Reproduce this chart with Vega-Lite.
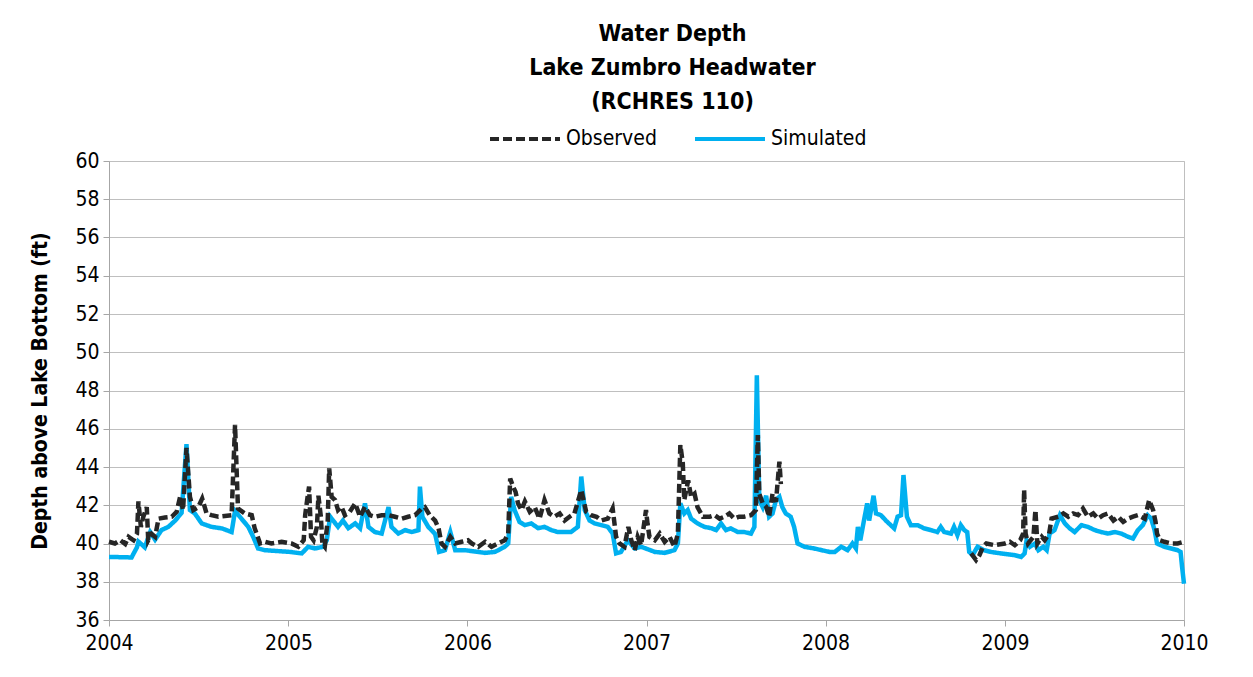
{
  "$schema": "https://vega.github.io/schema/vega-lite/v6.json",
  "autosize": {"type": "none"},
  "width": 1075,
  "height": 459,
  "padding": {"left": 109, "top": 161, "right": 69, "bottom": 57},
  "background": "white",
  "title": {
    "text": ["Water Depth", "Lake Zumbro Headwater", "(RCHRES 110)"],
    "anchor": "middle",
    "dx": 26,
    "offset": -12,
    "font": "Liberation Sans Narrow, DejaVu Sans Condensed, sans-serif",
    "fontSize": 23,
    "fontWeight": "bold",
    "lineHeight": 34,
    "color": "#000000"
  },
  "config": {
    "view": {"stroke": "#BFBFBF", "strokeWidth": 1},
    "font": "Liberation Sans Narrow, DejaVu Sans Condensed, sans-serif"
  },
  "datasets": {
    "sim": [
      {"date": "2004-01-01", "depth": 39.3}, {"date": "2004-02-16", "depth": 39.27}, {"date": "2004-02-27", "depth": 39.8},
      {"date": "2004-03-01", "depth": 40.1}, {"date": "2004-03-14", "depth": 39.8}, {"date": "2004-03-25", "depth": 40.6},
      {"date": "2004-04-04", "depth": 40.2}, {"date": "2004-04-17", "depth": 40.7}, {"date": "2004-05-01", "depth": 40.87},
      {"date": "2004-05-15", "depth": 41.2}, {"date": "2004-05-28", "depth": 41.6}, {"date": "2004-06-07", "depth": 45.2},
      {"date": "2004-06-14", "depth": 41.75}, {"date": "2004-06-24", "depth": 41.57}, {"date": "2004-07-08", "depth": 41.05},
      {"date": "2004-07-28", "depth": 40.87}, {"date": "2004-08-18", "depth": 40.79}, {"date": "2004-09-07", "depth": 40.6},
      {"date": "2004-09-14", "depth": 41.7}, {"date": "2004-09-27", "depth": 41.3}, {"date": "2004-10-11", "depth": 40.87},
      {"date": "2004-10-21", "depth": 40.35}, {"date": "2004-10-31", "depth": 39.74}, {"date": "2004-11-14", "depth": 39.65},
      {"date": "2005-01-04", "depth": 39.56}, {"date": "2005-01-28", "depth": 39.48}, {"date": "2005-02-10", "depth": 39.83},
      {"date": "2005-02-24", "depth": 39.74}, {"date": "2005-03-13", "depth": 39.83}, {"date": "2005-03-20", "depth": 40.17},
      {"date": "2005-03-27", "depth": 41.4}, {"date": "2005-04-02", "depth": 41.2}, {"date": "2005-04-12", "depth": 40.87},
      {"date": "2005-04-22", "depth": 41.2}, {"date": "2005-05-03", "depth": 40.8}, {"date": "2005-05-17", "depth": 41.05},
      {"date": "2005-05-27", "depth": 40.8}, {"date": "2005-06-06", "depth": 42.1}, {"date": "2005-06-13", "depth": 40.87},
      {"date": "2005-06-26", "depth": 40.6}, {"date": "2005-07-10", "depth": 40.52}, {"date": "2005-07-24", "depth": 41.9},
      {"date": "2005-07-30", "depth": 40.87}, {"date": "2005-08-13", "depth": 40.52}, {"date": "2005-08-27", "depth": 40.7},
      {"date": "2005-09-09", "depth": 40.6}, {"date": "2005-09-23", "depth": 40.7}, {"date": "2005-09-26", "depth": 42.97},
      {"date": "2005-10-01", "depth": 41.4}, {"date": "2005-10-13", "depth": 40.87}, {"date": "2005-10-27", "depth": 40.5},
      {"date": "2005-11-04", "depth": 39.56}, {"date": "2005-11-16", "depth": 39.65}, {"date": "2005-11-27", "depth": 40.6},
      {"date": "2005-12-07", "depth": 39.65}, {"date": "2005-12-27", "depth": 39.65}, {"date": "2006-02-06", "depth": 39.51},
      {"date": "2006-02-26", "depth": 39.56}, {"date": "2006-03-18", "depth": 39.83}, {"date": "2006-03-25", "depth": 40.0},
      {"date": "2006-03-31", "depth": 42.44}, {"date": "2006-04-07", "depth": 41.75}, {"date": "2006-04-17", "depth": 41.13},
      {"date": "2006-04-28", "depth": 40.96}, {"date": "2006-05-11", "depth": 41.05}, {"date": "2006-05-25", "depth": 40.8},
      {"date": "2006-06-07", "depth": 40.87}, {"date": "2006-06-21", "depth": 40.7}, {"date": "2006-07-04", "depth": 40.6},
      {"date": "2006-07-31", "depth": 40.6}, {"date": "2006-08-14", "depth": 40.87}, {"date": "2006-08-21", "depth": 43.5},
      {"date": "2006-08-28", "depth": 41.75}, {"date": "2006-09-07", "depth": 41.2}, {"date": "2006-09-17", "depth": 41.05},
      {"date": "2006-10-01", "depth": 40.96}, {"date": "2006-10-14", "depth": 40.87}, {"date": "2006-10-24", "depth": 40.52},
      {"date": "2006-10-31", "depth": 39.48}, {"date": "2006-11-10", "depth": 39.56}, {"date": "2006-11-24", "depth": 40.17},
      {"date": "2006-12-08", "depth": 39.74}, {"date": "2006-12-21", "depth": 39.83}, {"date": "2007-01-18", "depth": 39.56},
      {"date": "2007-02-07", "depth": 39.51}, {"date": "2007-02-27", "depth": 39.65}, {"date": "2007-03-06", "depth": 40.0},
      {"date": "2007-03-11", "depth": 42.1}, {"date": "2007-03-19", "depth": 41.57}, {"date": "2007-03-26", "depth": 41.75},
      {"date": "2007-04-02", "depth": 41.3}, {"date": "2007-04-15", "depth": 41.05}, {"date": "2007-04-29", "depth": 40.87},
      {"date": "2007-05-13", "depth": 40.8}, {"date": "2007-05-23", "depth": 40.7}, {"date": "2007-06-02", "depth": 41.05},
      {"date": "2007-06-12", "depth": 40.7}, {"date": "2007-06-22", "depth": 40.79}, {"date": "2007-07-06", "depth": 40.6},
      {"date": "2007-07-19", "depth": 40.6}, {"date": "2007-08-02", "depth": 40.52}, {"date": "2007-08-09", "depth": 40.87},
      {"date": "2007-08-14", "depth": 48.8}, {"date": "2007-08-19", "depth": 42.27}, {"date": "2007-08-26", "depth": 41.9},
      {"date": "2007-09-02", "depth": 42.5}, {"date": "2007-09-08", "depth": 41.4}, {"date": "2007-09-15", "depth": 41.57},
      {"date": "2007-09-22", "depth": 42.27}, {"date": "2007-09-29", "depth": 42.44}, {"date": "2007-10-05", "depth": 41.9},
      {"date": "2007-10-12", "depth": 41.57}, {"date": "2007-10-22", "depth": 41.4}, {"date": "2007-10-29", "depth": 40.87},
      {"date": "2007-11-05", "depth": 40.0}, {"date": "2007-11-19", "depth": 39.83}, {"date": "2007-12-09", "depth": 39.74},
      {"date": "2008-01-09", "depth": 39.56}, {"date": "2008-01-20", "depth": 39.56}, {"date": "2008-02-02", "depth": 39.83},
      {"date": "2008-02-15", "depth": 39.65}, {"date": "2008-02-25", "depth": 40.0}, {"date": "2008-03-03", "depth": 39.74},
      {"date": "2008-03-07", "depth": 40.87}, {"date": "2008-03-12", "depth": 40.17}, {"date": "2008-03-17", "depth": 40.87},
      {"date": "2008-03-26", "depth": 42.1}, {"date": "2008-03-30", "depth": 41.2}, {"date": "2008-04-08", "depth": 42.5},
      {"date": "2008-04-13", "depth": 41.57}, {"date": "2008-04-23", "depth": 41.48}, {"date": "2008-05-03", "depth": 41.2},
      {"date": "2008-05-13", "depth": 40.96}, {"date": "2008-05-20", "depth": 40.79}, {"date": "2008-05-27", "depth": 41.4},
      {"date": "2008-06-03", "depth": 41.48}, {"date": "2008-06-08", "depth": 43.58}, {"date": "2008-06-15", "depth": 41.4},
      {"date": "2008-06-23", "depth": 40.96}, {"date": "2008-07-07", "depth": 40.96}, {"date": "2008-07-20", "depth": 40.79},
      {"date": "2008-08-03", "depth": 40.7}, {"date": "2008-08-16", "depth": 40.6}, {"date": "2008-08-23", "depth": 40.87},
      {"date": "2008-08-30", "depth": 40.6}, {"date": "2008-09-13", "depth": 40.52}, {"date": "2008-09-19", "depth": 40.87},
      {"date": "2008-09-26", "depth": 40.44}, {"date": "2008-10-03", "depth": 40.96}, {"date": "2008-10-10", "depth": 40.7},
      {"date": "2008-10-16", "depth": 40.6}, {"date": "2008-10-20", "depth": 39.56}, {"date": "2008-10-27", "depth": 39.39},
      {"date": "2008-11-06", "depth": 39.83}, {"date": "2008-11-19", "depth": 39.65}, {"date": "2008-12-03", "depth": 39.56},
      {"date": "2008-12-24", "depth": 39.48}, {"date": "2009-01-21", "depth": 39.39}, {"date": "2009-02-03", "depth": 39.3},
      {"date": "2009-02-10", "depth": 39.48}, {"date": "2009-02-14", "depth": 40.17}, {"date": "2009-02-21", "depth": 39.83},
      {"date": "2009-03-03", "depth": 40.0}, {"date": "2009-03-10", "depth": 39.65}, {"date": "2009-03-20", "depth": 39.83},
      {"date": "2009-03-27", "depth": 39.65}, {"date": "2009-04-02", "depth": 40.52}, {"date": "2009-04-12", "depth": 40.7},
      {"date": "2009-04-23", "depth": 41.48}, {"date": "2009-05-03", "depth": 41.05}, {"date": "2009-05-13", "depth": 40.79},
      {"date": "2009-05-23", "depth": 40.6}, {"date": "2009-06-06", "depth": 40.96}, {"date": "2009-06-19", "depth": 40.87},
      {"date": "2009-07-03", "depth": 40.7}, {"date": "2009-07-16", "depth": 40.6}, {"date": "2009-07-30", "depth": 40.52},
      {"date": "2009-08-13", "depth": 40.6}, {"date": "2009-08-26", "depth": 40.52}, {"date": "2009-09-09", "depth": 40.35},
      {"date": "2009-09-19", "depth": 40.26}, {"date": "2009-09-29", "depth": 40.7}, {"date": "2009-10-09", "depth": 40.96},
      {"date": "2009-10-19", "depth": 41.48}, {"date": "2009-10-26", "depth": 41.3}, {"date": "2009-11-02", "depth": 40.7},
      {"date": "2009-11-07", "depth": 40.0}, {"date": "2009-11-22", "depth": 39.83}, {"date": "2009-12-06", "depth": 39.74},
      {"date": "2009-12-19", "depth": 39.65}, {"date": "2009-12-25", "depth": 39.56}, {"date": "2009-12-28", "depth": 38.8},
      {"date": "2010-01-01", "depth": 37.9}
    ],
    "obs": [
      {"date": "2004-01-01", "depth": 40.09}, {"date": "2004-01-13", "depth": 40.0}, {"date": "2004-01-24", "depth": 40.17},
      {"date": "2004-02-03", "depth": 39.97}, {"date": "2004-02-10", "depth": 40.35}, {"date": "2004-02-20", "depth": 40.17},
      {"date": "2004-02-27", "depth": 40.5}, {"date": "2004-03-01", "depth": 42.2}, {"date": "2004-03-06", "depth": 40.87},
      {"date": "2004-03-11", "depth": 41.4}, {"date": "2004-03-18", "depth": 41.9}, {"date": "2004-03-21", "depth": 40.17},
      {"date": "2004-03-28", "depth": 40.5}, {"date": "2004-04-04", "depth": 40.35}, {"date": "2004-04-11", "depth": 41.3},
      {"date": "2004-04-24", "depth": 41.36}, {"date": "2004-05-08", "depth": 41.4}, {"date": "2004-05-18", "depth": 41.66},
      {"date": "2004-05-25", "depth": 42.44}, {"date": "2004-05-31", "depth": 41.75}, {"date": "2004-06-07", "depth": 45.0},
      {"date": "2004-06-14", "depth": 42.44}, {"date": "2004-06-21", "depth": 41.75}, {"date": "2004-07-01", "depth": 41.9},
      {"date": "2004-07-09", "depth": 42.35}, {"date": "2004-07-18", "depth": 41.57}, {"date": "2004-07-28", "depth": 41.48},
      {"date": "2004-08-11", "depth": 41.4}, {"date": "2004-08-24", "depth": 41.44}, {"date": "2004-09-07", "depth": 41.48},
      {"date": "2004-09-14", "depth": 46.2}, {"date": "2004-09-20", "depth": 41.83}, {"date": "2004-10-04", "depth": 41.57},
      {"date": "2004-10-18", "depth": 41.48}, {"date": "2004-10-24", "depth": 40.8}, {"date": "2004-11-04", "depth": 40.0},
      {"date": "2004-11-14", "depth": 40.09}, {"date": "2004-11-27", "depth": 40.0}, {"date": "2004-12-18", "depth": 40.09},
      {"date": "2005-01-07", "depth": 40.0}, {"date": "2005-01-21", "depth": 39.83}, {"date": "2005-02-01", "depth": 40.17},
      {"date": "2005-02-04", "depth": 41.48}, {"date": "2005-02-08", "depth": 42.27}, {"date": "2005-02-12", "depth": 42.97},
      {"date": "2005-02-16", "depth": 40.35}, {"date": "2005-02-21", "depth": 40.17}, {"date": "2005-02-28", "depth": 40.87},
      {"date": "2005-03-03", "depth": 42.5}, {"date": "2005-03-08", "depth": 41.4}, {"date": "2005-03-11", "depth": 40.0},
      {"date": "2005-03-16", "depth": 39.83}, {"date": "2005-03-22", "depth": 41.2}, {"date": "2005-03-25", "depth": 43.93},
      {"date": "2005-03-30", "depth": 42.44}, {"date": "2005-04-06", "depth": 42.27}, {"date": "2005-04-12", "depth": 41.75},
      {"date": "2005-04-19", "depth": 41.92}, {"date": "2005-04-26", "depth": 41.48}, {"date": "2005-05-06", "depth": 41.66},
      {"date": "2005-05-17", "depth": 42.1}, {"date": "2005-05-27", "depth": 41.4}, {"date": "2005-06-06", "depth": 41.92},
      {"date": "2005-06-16", "depth": 41.48}, {"date": "2005-06-26", "depth": 41.4}, {"date": "2005-07-10", "depth": 41.48},
      {"date": "2005-07-24", "depth": 41.48}, {"date": "2005-08-06", "depth": 41.4}, {"date": "2005-08-20", "depth": 41.3},
      {"date": "2005-09-02", "depth": 41.4}, {"date": "2005-09-16", "depth": 41.48}, {"date": "2005-09-30", "depth": 41.83},
      {"date": "2005-10-06", "depth": 41.9}, {"date": "2005-10-16", "depth": 41.48}, {"date": "2005-10-27", "depth": 41.2},
      {"date": "2005-11-03", "depth": 40.8}, {"date": "2005-11-09", "depth": 40.0}, {"date": "2005-11-16", "depth": 39.83},
      {"date": "2005-11-27", "depth": 40.35}, {"date": "2005-12-07", "depth": 40.0}, {"date": "2005-12-20", "depth": 40.09},
      {"date": "2006-01-02", "depth": 40.17}, {"date": "2006-01-10", "depth": 40.0}, {"date": "2006-01-23", "depth": 39.83},
      {"date": "2006-02-06", "depth": 40.09}, {"date": "2006-02-19", "depth": 39.83}, {"date": "2006-03-04", "depth": 40.0},
      {"date": "2006-03-18", "depth": 40.17}, {"date": "2006-03-25", "depth": 40.52}, {"date": "2006-03-29", "depth": 43.4},
      {"date": "2006-04-04", "depth": 42.97}, {"date": "2006-04-09", "depth": 42.7}, {"date": "2006-04-14", "depth": 42.1},
      {"date": "2006-04-21", "depth": 41.75}, {"date": "2006-04-28", "depth": 42.2}, {"date": "2006-05-08", "depth": 41.66},
      {"date": "2006-05-18", "depth": 41.9}, {"date": "2006-05-28", "depth": 41.3}, {"date": "2006-06-07", "depth": 42.27},
      {"date": "2006-06-17", "depth": 41.57}, {"date": "2006-06-27", "depth": 41.4}, {"date": "2006-07-08", "depth": 41.57},
      {"date": "2006-07-18", "depth": 41.2}, {"date": "2006-07-28", "depth": 41.4}, {"date": "2006-08-07", "depth": 41.57},
      {"date": "2006-08-21", "depth": 42.8}, {"date": "2006-08-31", "depth": 41.66}, {"date": "2006-09-10", "depth": 41.48},
      {"date": "2006-09-21", "depth": 41.4}, {"date": "2006-10-01", "depth": 41.2}, {"date": "2006-10-14", "depth": 41.3},
      {"date": "2006-10-24", "depth": 41.83}, {"date": "2006-10-31", "depth": 40.35}, {"date": "2006-11-07", "depth": 40.0},
      {"date": "2006-11-17", "depth": 39.83}, {"date": "2006-11-25", "depth": 40.87}, {"date": "2006-12-01", "depth": 40.17},
      {"date": "2006-12-08", "depth": 39.65}, {"date": "2006-12-14", "depth": 40.35}, {"date": "2006-12-21", "depth": 39.91},
      {"date": "2006-12-31", "depth": 41.75}, {"date": "2007-01-03", "depth": 41.05}, {"date": "2007-01-07", "depth": 40.35},
      {"date": "2007-01-18", "depth": 40.17}, {"date": "2007-01-28", "depth": 40.52}, {"date": "2007-02-07", "depth": 40.09},
      {"date": "2007-02-17", "depth": 40.35}, {"date": "2007-02-27", "depth": 39.83}, {"date": "2007-03-06", "depth": 40.52},
      {"date": "2007-03-11", "depth": 45.15}, {"date": "2007-03-16", "depth": 44.2}, {"date": "2007-03-19", "depth": 42.27},
      {"date": "2007-03-27", "depth": 43.3}, {"date": "2007-04-02", "depth": 42.44}, {"date": "2007-04-09", "depth": 42.6},
      {"date": "2007-04-15", "depth": 41.9}, {"date": "2007-04-26", "depth": 41.4}, {"date": "2007-05-10", "depth": 41.4},
      {"date": "2007-05-20", "depth": 41.48}, {"date": "2007-05-30", "depth": 41.3}, {"date": "2007-06-09", "depth": 41.4},
      {"date": "2007-06-19", "depth": 41.57}, {"date": "2007-06-29", "depth": 41.3}, {"date": "2007-07-09", "depth": 41.4},
      {"date": "2007-07-19", "depth": 41.4}, {"date": "2007-08-02", "depth": 41.48}, {"date": "2007-08-12", "depth": 41.75},
      {"date": "2007-08-16", "depth": 45.67}, {"date": "2007-08-19", "depth": 42.6}, {"date": "2007-08-26", "depth": 42.1},
      {"date": "2007-09-02", "depth": 41.92}, {"date": "2007-09-08", "depth": 41.4}, {"date": "2007-09-15", "depth": 42.6},
      {"date": "2007-09-22", "depth": 42.18}, {"date": "2007-09-29", "depth": 44.28}, {"date": "2007-10-02", "depth": 43.1},
      {"date": "2008-04-01", "depth": null},
      {"date": "2008-10-24", "depth": 39.48}, {"date": "2008-11-03", "depth": 39.13}, {"date": "2008-11-10", "depth": 39.39},
      {"date": "2008-11-17", "depth": 39.83}, {"date": "2008-11-24", "depth": 40.0}, {"date": "2008-12-11", "depth": 39.91},
      {"date": "2009-01-01", "depth": 40.0}, {"date": "2009-01-11", "depth": 40.09}, {"date": "2009-01-21", "depth": 39.91},
      {"date": "2009-02-01", "depth": 40.17}, {"date": "2009-02-07", "depth": 40.52}, {"date": "2009-02-09", "depth": 42.8},
      {"date": "2009-02-12", "depth": 40.52}, {"date": "2009-02-17", "depth": 40.0}, {"date": "2009-02-28", "depth": 40.35},
      {"date": "2009-03-04", "depth": 41.75}, {"date": "2009-03-08", "depth": 40.0}, {"date": "2009-03-17", "depth": 40.35},
      {"date": "2009-03-23", "depth": 40.17}, {"date": "2009-04-01", "depth": 40.52}, {"date": "2009-04-06", "depth": 41.3},
      {"date": "2009-04-20", "depth": 41.4}, {"date": "2009-04-30", "depth": 41.57}, {"date": "2009-05-10", "depth": 41.4},
      {"date": "2009-05-20", "depth": 41.57}, {"date": "2009-05-30", "depth": 41.48}, {"date": "2009-06-09", "depth": 41.83},
      {"date": "2009-06-19", "depth": 41.4}, {"date": "2009-06-30", "depth": 41.57}, {"date": "2009-07-10", "depth": 41.3},
      {"date": "2009-07-20", "depth": 41.48}, {"date": "2009-07-30", "depth": 41.57}, {"date": "2009-08-10", "depth": 41.2},
      {"date": "2009-08-20", "depth": 41.4}, {"date": "2009-08-30", "depth": 41.13}, {"date": "2009-09-09", "depth": 41.3},
      {"date": "2009-09-19", "depth": 41.4}, {"date": "2009-09-29", "depth": 41.48}, {"date": "2009-10-13", "depth": 41.3},
      {"date": "2009-10-22", "depth": 42.27}, {"date": "2009-10-30", "depth": 41.75}, {"date": "2009-11-04", "depth": 41.13},
      {"date": "2009-11-07", "depth": 40.52}, {"date": "2009-11-13", "depth": 40.17}, {"date": "2009-11-22", "depth": 40.09},
      {"date": "2009-12-06", "depth": 40.0}, {"date": "2009-12-19", "depth": 40.0}, {"date": "2010-01-01", "depth": 40.09}
    ]
  },
  "encoding": {
    "x": {
      "field": "date",
      "type": "temporal",
      "scale": {"type": "utc", "domain": [{"year": 2004, "month": 1, "date": 1, "utc": true}, {"year": 2010, "month": 1, "date": 1, "utc": true}]},
      "axis": {
        "title": null,
        "format": "%Y",
        "formatType": "utc",
        "values": [
          {"year": 2004, "month": 1, "date": 1, "utc": true}, {"year": 2005, "month": 1, "date": 1, "utc": true},
          {"year": 2006, "month": 1, "date": 1, "utc": true}, {"year": 2007, "month": 1, "date": 1, "utc": true},
          {"year": 2008, "month": 1, "date": 1, "utc": true}, {"year": 2009, "month": 1, "date": 1, "utc": true},
          {"year": 2010, "month": 1, "date": 1, "utc": true}
        ],
        "grid": false,
        "domainColor": "#A6A6A6",
        "tickColor": "#A6A6A6",
        "tickSize": 6,
        "labelFontSize": 21,
        "labelColor": "#000000",
        "labelPadding": 6,
        "labelFlush": false,
        "labelOverlap": false
      }
    },
    "y": {
      "field": "depth",
      "type": "quantitative",
      "scale": {"domain": [36, 60], "nice": false, "zero": false},
      "axis": {
        "title": "Depth above Lake Bottom (ft)",
        "titleFontSize": 21,
        "titleFontWeight": "bold",
        "titleColor": "#000000",
        "titlePadding": 24,
        "values": [36, 38, 40, 42, 44, 46, 48, 50, 52, 54, 56, 58, 60],
        "gridColor": "#BFBFBF",
        "gridWidth": 1,
        "domainColor": "#A6A6A6",
        "tickColor": "#A6A6A6",
        "tickSize": 6,
        "labelFontSize": 21,
        "labelColor": "#000000",
        "labelPadding": 4,
        "labelOverlap": false
      }
    },
    "color": {
      "field": "series",
      "type": "nominal",
      "scale": {"domain": ["Observed", "Simulated"], "range": ["#262626", "#00B0F0"]},
      "legend": {
        "title": null,
        "orient": "none",
        "direction": "horizontal",
        "legendX": 379,
        "legendY": -59,
        "symbolType": "stroke",
        "symbolSize": 4900,
        "symbolStrokeWidth": 4,
        "labelFontSize": 21,
        "labelColor": "#000000",
        "columnPadding": 30,
        "labelOffset": 4
      }
    },
    "strokeDash": {
      "field": "series",
      "type": "nominal",
      "scale": {"domain": ["Observed", "Simulated"], "range": [[9, 4], [1, 0]]},
      "legend": {
        "title": null,
        "orient": "none",
        "direction": "horizontal",
        "legendX": 379,
        "legendY": -59,
        "symbolType": "stroke",
        "symbolSize": 4900,
        "symbolStrokeWidth": 4,
        "labelFontSize": 21,
        "labelColor": "#000000",
        "columnPadding": 30,
        "labelOffset": 4
      }
    }
  },
  "layer": [
    {
      "data": {"name": "sim"},
      "transform": [{"calculate": "'Simulated'", "as": "series"}],
      "mark": {"type": "line", "strokeWidth": 4.5, "invalid": "break-paths-filter-domains"}
    },
    {
      "data": {"name": "obs"},
      "transform": [{"calculate": "'Observed'", "as": "series"}],
      "mark": {"type": "line", "strokeWidth": 4.5, "invalid": "break-paths-filter-domains"}
    }
  ]
}
